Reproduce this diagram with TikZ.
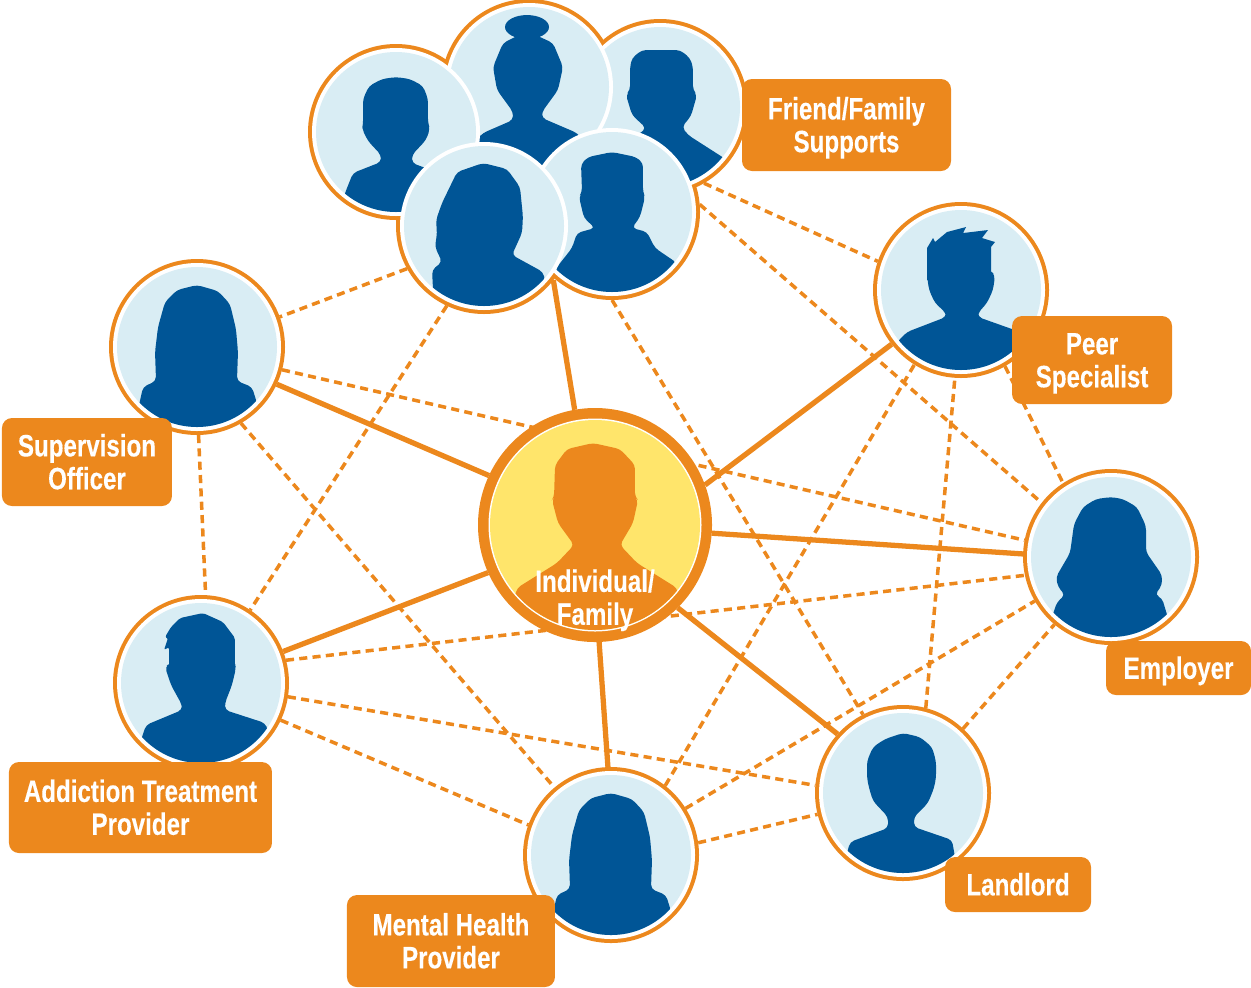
\documentclass[tikz,border=0pt]{standalone}
\usepackage{fontspec}
\usepackage{xcolor}
\usetikzlibrary{positioning}
\newfontfamily\boxfont[FakeStretch=0.78,BoldFeatures={FakeBold=0.25}]{Liberation Sans}
\definecolor{ringorange}{HTML}{EC881D}
\definecolor{darkblue}{HTML}{005596}
\definecolor{paleblue}{HTML}{D9EDF4}
\definecolor{paleyellow}{HTML}{FFE56B}
\pgfdeclarelayer{bg}
\pgfsetlayers{bg,main}
\tikzset{
	ringnode/.style={circle,fill=ringorange,inner sep=0,outer sep=0,minimum size=1.76cm},
	labelbox/.style={fill=ringorange,rounded corners=.1cm,text=white,inner sep=0,outer sep=0,font=\boxfont\bfseries\fontsize{8.8}{9.35}\selectfont},
	solidline/.style={draw=ringorange,line width=1.5pt},
	dashline/.style={draw=ringorange,line width=1pt,dash pattern=on 2.3pt off 1.5pt},
	figure/.style={x=.01cm,y=-.01cm,rounded corners=1.2pt},
	outline/.style={sharp cycle},
	manfig/.pic={\fill plot[outline] coordinates {(0,-55) (-14,-53) (-27,-46) (-33,-33) (-33,-7) (-34,-3) (-28,9) (-15,23) (-15,30) (-43,41) (-51,61) (-60,95) (60,95) (51,61) (43,41) (16,31) (16,23) (30,8) (34,-3) (32,-9) (32,-33) (27,-46) (14,-53)};},
	landfig/.pic={\fill plot[outline] coordinates {(0,-60) (-18,-54) (-30,-46) (-36,-32) (-36,-15) (-34,-5) (-30,8) (-15,24) (-15,35) (-53,49) (-56,60) (-60,95) (60,95) (52,64) (49,47) (11,34) (11,24) (25,10) (31,-5) (33,-15) (33,-32) (29,-46) (17,-56)};},
	flatfig/.pic={\fill plot[outline] coordinates {(-18,-57) (-28,-49) (-30,-40) (-30,-17) (-34,-12) (-28,8) (-14,21) (-18,25) (-60,50) (-67,95) (67,95) (67,53) (28,28) (22,20) (31,9) (37,-12) (33,-17) (33,-40) (30,-49) (20,-57)};},
	boyfig/.pic={\fill plot[outline] coordinates {(0,-60) (-24,-55) (-31,-48) (-30,-20) (-33,-15) (-28,6) (-17,16) (-35,21) (-40,36) (-55,55) (-65,95) (65,95) (65,51) (43,36) (35,20) (20,16) (28,5) (33,-15) (31,-20) (31,-49) (24,-55)};},
	spikyfig/.pic={
		\fill[sharp corners] (-34,-10) -- (-34,-42) -- (-28,-52) -- (-26,-48) -- (-14,-58) -- (5,-63) -- (2,-57) -- (27,-60) -- (21,-52) -- (34,-48) -- (30,-43) -- (30,-10) -- cycle;
		\fill plot[outline] coordinates {(-30,-20) (-34,-14) (-32,0) (-26,13) (-15,23) (-15,27) (-54,42) (-64,52) (-70,95) (70,95) (66,52) (62,43) (17,27) (17,23) (26,13) (32,0) (34,-14) (30,-20)};
	},
	sweptfig/.pic={
		\fill[rounded corners=.6pt] (-32,-10) -- (-32,-36) -- (-37,-33) -- (-33,-45) -- (-36,-46) -- (-30,-56) -- (-21,-65) -- (2,-70) -- (22,-61) -- (34,-45) -- (34,-10) -- cycle;
		\fill plot[outline] coordinates {(-31,-20) (-36,-16) (-30,2) (-19,22) (-19,27) (-55,42) (-60,57) (-68,95) (68,95) (67,47) (64,40) (24,27) (24,20) (31,2) (35,-15) (34,-20)};
	},
	longfig/.pic={\fill plot[outline] coordinates {(0,-62) (-20,-57) (-32,-45) (-39,-20) (-42,5) (-41,34) (-54,40) (-58,58) (-62,95) (62,95) (60,56) (55,40) (40,34) (41,5) (39,-18) (33,-43) (21,-56)};},
	wavyfig/.pic={\fill plot[outline] coordinates {(0,-60) (-15,-58) (-28,-50) (-37,-33) (-41,-4) (-55,20) (-53,30) (-46,38) (-54,45) (-59,60) (-62,95) (62,95) (57,61) (51,41) (44,38) (51,28) (51,18) (35,-5) (35,-31) (26,-50) (12,-58)};},
	womanfig/.pic={\fill plot[outline] coordinates {(-1,-63) (-27,-54) (-42,-23) (-48,-6) (-47,7) (-49,21) (-42,36) (-52,44) (-51,64) (-50,95) (62,95) (61,54) (59,46) (28,29) (38,7) (39,-9) (36,-39) (23,-57)};},
	bunfig/.pic={
		\fill[sharp corners] (-2,-60) ellipse [x radius=22,y radius=12];
		\fill plot[outline] coordinates {(-2,-56) (-26,-44) (-36,-20) (-32,3) (-16,25) (-16,33) (-46,46) (-60,60) (-60,95) (60,95) (60,60) (48,46) (13,31) (13,25) (29,3) (34,-20) (24,-44)};
	},
	centrefig/.pic={\fill plot[outline] coordinates {(-2,-82) (-28,-76) (-40,-60) (-41,-28) (-43,-25) (-37,-2) (-21,20) (-38,38) (-78,63) (-90,110) (90,110) (82,63) (42,38) (25,20) (38,-2) (43,-25) (40,-28) (40,-60) (25,-76)};}
}
% one round picture: white rim, pale disc, clipped figure
\newcommand{\portrait}[2]{
	\fill[white] (#1) circle (.84);
	\fill[paleblue] (#1) circle (.80);
	\begin{scope}
		\clip (#1) circle (.80);
		\begin{scope}[shift={(#1)},figure,fill=darkblue]
			\pic {#2};
		\end{scope}
	\end{scope}
}
% lines of a box, with even spacing whatever their letters
\newcommand{\boxtext}[1]{\setbox\strutbox\hbox{\vrule height 6.5pt depth 2.85pt width 0pt}\raisebox{-3.5pt}[0pt][0pt]{\begin{tabular}{@{}c@{}}#1\end{tabular}}}
\begin{document}
\begin{tikzpicture}
	\useasboundingbox (0,0) rectangle (12.51,-9.87);
	% nodes %
	\node[ringnode,minimum size=2.34cm] (ind) at (5.95,-5.25) {};
	\foreach \name/\x/\y in {friendc/6.60/-1.07, friendb/5.29/-.87, frienda/3.96/-1.32, friende/6.12/-2.12, friendd/4.84/-2.26, peer/9.61/-2.90, employer/11.11/-5.57, landlord/9.03/-7.93, mental/6.11/-8.55, addiction/2.01/-6.83, supervision/1.97/-3.47}
		\node[ringnode] (\name) at (\x,\y) {};

	\portrait{friendc}{flatfig}
	\portrait{friendb}{bunfig}
	\portrait{frienda}{manfig}
	\portrait{friende}{boyfig}
	\portrait{friendd}{womanfig}
	\portrait{peer}{spikyfig}
	\portrait{employer}{wavyfig}
	\portrait{landlord}{landfig}
	\portrait{mental}{longfig}
	\portrait{addiction}{sweptfig}
	\portrait{supervision}{longfig}

	% centre %
	\fill[white] (ind) circle (1.065);
	\fill[paleyellow] (ind) circle (1.05);
	\begin{scope}
		\clip (ind) circle (1.05);
		\begin{scope}[shift={(ind)},figure,fill=ringorange]
			\pic {centrefig};
		\end{scope}
	\end{scope}
	\node[labelbox,fill=none,yshift=-.725cm] (indlabel) at (ind) {\boxtext{Individual/\\Family}};

	% labels %
	\node[labelbox,minimum width=2.09cm,minimum height=.92cm,right=-.06 of friendc,yshift=-.18cm] (friendbox) {\boxtext{Friend/Family\\Supports}};
	\node[labelbox,minimum width=1.60cm,minimum height=.88cm,below right=-.362 and -.112 of peer] (peerbox) {\boxtext{Peer\\Specialist}};
	\node[labelbox,minimum width=1.45cm,minimum height=.54cm,below right=.218 and -.672 of employer] (employerbox) {\boxtext{Employer}};
	\node[labelbox,minimum width=1.46cm,minimum height=.55cm,below right=.018 and -.202 of landlord] (landlordbox) {\boxtext{Landlord}};
	\node[labelbox,minimum width=2.08cm,minimum height=.92cm,below left=-.222 and -.062 of mental] (mentalbox) {\boxtext{Mental Health\\Provider}};
	\node[labelbox,minimum width=2.63cm,minimum height=.91cm,below left=.168 and -1.332 of addiction] (addictionbox) {\boxtext{Addiction Treatment\\Provider}};
	\node[labelbox,minimum width=1.70cm,minimum height=.88cm,below left=.088 and -.372 of supervision] (supervisionbox) {\boxtext{Supervision\\Officer}};

	% edges %
	\begin{pgfonlayer}{bg}
		\foreach \a/\b in {friendd.209/supervision.20, friendd.245/addiction.56, friende.5/employer.142, friendc.300/peer.161, friende.270/landlord.117, supervision.-15/employer.169, supervision.-60/mental.130, supervision.-89/addiction.87, addiction.15/employer.192, addiction.-9/landlord.175, addiction.-25/mental.160, mental.52/peer.238, mental.32/employer.210, mental.8/landlord.194, landlord.75/peer.266, peer.-60/employer.123, landlord.47/employer.230}
			\draw[dashline] (\a) -- (\b);
		\foreach \a/\b in {ind.100/friendd.-38, ind.155/supervision.-25, ind.204/addiction.21, ind.272/mental.92, ind.-45/landlord.138, ind.-4/employer.178, ind.20/peer.218}
			\draw[solidline] (\a) -- (\b);
	\end{pgfonlayer}
\end{tikzpicture}
\end{document}
